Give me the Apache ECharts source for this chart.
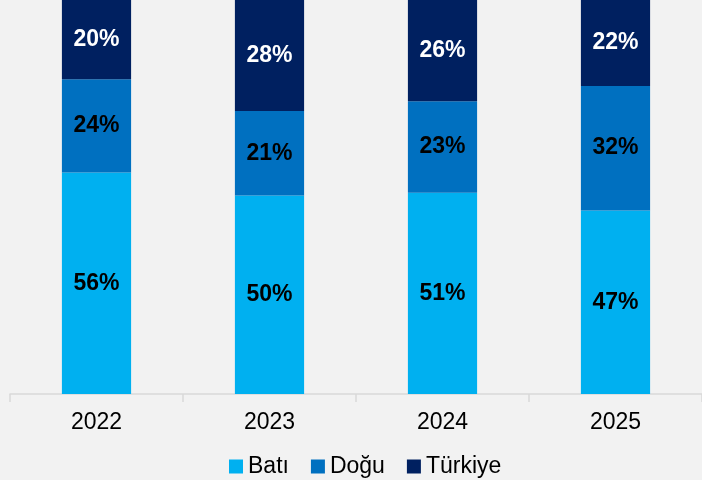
<!DOCTYPE html>
<html>
<head>
<meta charset="utf-8">
<script src="https://cdn.jsdelivr.net/npm/echarts@6/dist/echarts.min.js"></script>
<style>
  html, body { margin: 0; padding: 0; background: #f2f2f2; }
  #chart { width: 702px; height: 480px; }
</style>
</head>
<body>
<div id="chart"></div>
<script>
// yıllar
const years = ['2022', '2023', '2024', '2025'];
// pay (%), çubuk yüksekliklerinden okunmuş
const bati = [56.2, 50.4, 51.1, 46.6];
const dogu = [23.7, 21.4, 23.2, 31.6];
const turkiye = [20.1, 28.2, 25.7, 21.8];

const colors = ['#00b0f0', '#0070c0', '#002060'];

function makeSeries(name, data, labelColor) {
    return {
        name: name,
        type: 'bar',
        stack: 'total',
        barWidth: '40%',
        data: data,
        label: {
            show: true,
            position: 'inside',
            formatter: (p) => Math.round(p.value) + '%',
            color: labelColor,
            fontFamily: 'Liberation Sans',
            fontWeight: 'bold',
            fontSize: 23
        }
    };
}

const chart = echarts.init(document.getElementById('chart'));
chart.setOption({
    backgroundColor: '#f2f2f2',
    color: colors,
    animation: false,
    grid: {
        top: 0,
        left: 10,
        width: 696,
        bottom: 86
    },
    legend: {
        left: 224,
        top: 450,
        itemWidth: 14,
        itemHeight: 14,
        itemGap: 22,
        icon: 'rect',
        textStyle: {
            fontFamily: 'Liberation Sans',
            fontSize: 23,
            color: '#000'
        },
        data: ['Batı', 'Doğu', 'Türkiye']
    },
    xAxis: {
        type: 'category',
        data: years,
        axisLine: { lineStyle: { color: '#d9d9d9', width: 1.5 } },
        axisTick: { show: true, length: 8, lineStyle: { color: '#d9d9d9', width: 1.5 } },
        axisLabel: {
            margin: 17,
            color: '#000',
            fontFamily: 'Liberation Sans',
            fontSize: 23
        }
    },
    yAxis: {
        type: 'value',
        min: 0,
        max: 100,
        show: false
    },
    series: [
        makeSeries('Batı', bati, '#000'),
        makeSeries('Doğu', dogu, '#000'),
        makeSeries('Türkiye', turkiye, '#fff')
    ]
});
</script>
</body>
</html>
